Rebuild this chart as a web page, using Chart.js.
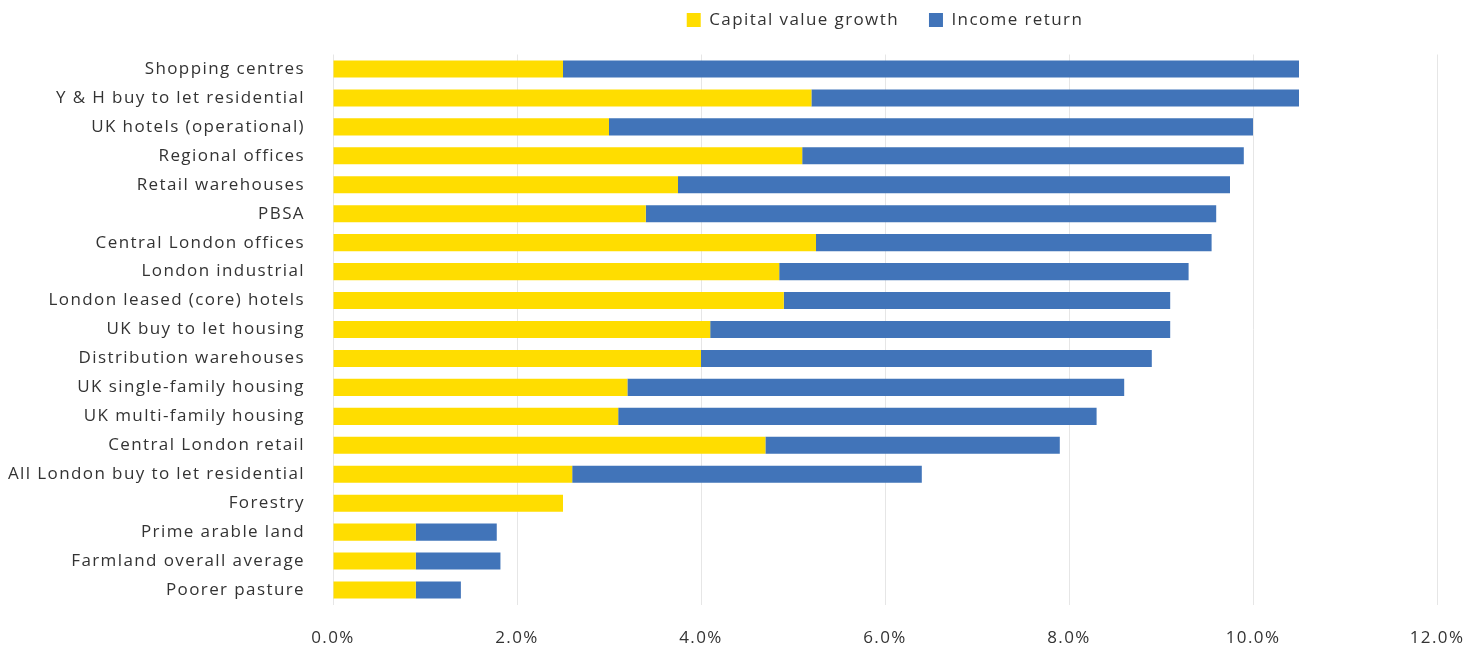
<!DOCTYPE html>
<html>
<head>
<meta charset="utf-8">
<script src="https://cdn.jsdelivr.net/npm/chart.js@4"></script>
<style>
  html, body { margin: 0; padding: 0; background: #fff; }
  #wrap { width: 1483px; height: 646px; position: relative; }
</style>
</head>
<body>
<div id="wrap"><canvas id="returns"></canvas></div>
<script>
const categories = [
    'Shopping centres', 'Y & H buy to let residential', 'UK hotels (operational)', 'Regional offices',
    'Retail warehouses', 'PBSA', 'Central London offices', 'London industrial',
    'London leased (core) hotels', 'UK buy to let housing', 'Distribution warehouses',
    'UK single-family housing', 'UK multi-family housing', 'Central London retail',
    'All London buy to let residential', 'Forestry', 'Prime arable land',
    'Farmland overall average', 'Poorer pasture'
];
const capitalGrowth = [2.5, 5.2, 3.0, 5.1, 3.75, 3.4, 5.25, 4.85, 4.9, 4.1, 4.0, 3.2, 3.1, 4.7, 2.6, 2.5, 0.9, 0.9, 0.9];
const incomeReturn = [8.0, 5.3, 7.0, 4.8, 6.0, 6.2, 4.3, 4.45, 4.2, 5.0, 4.9, 5.4, 5.2, 3.2, 3.8, 0, 0.88, 0.92, 0.49];
const xTicks = [0, 2, 4, 6, 8, 10, 12];

const textColor = '#333333';
const font = { family: "'Open Sans', 'Noto Sans', sans-serif", size: 17 };

// the original font is much wider, so space the letters out a bit
const wideText = {
    id: 'wideText',
    beforeUpdate(chart) { chart.ctx.letterSpacing = '1.4px'; },
    beforeDraw(chart) { chart.ctx.letterSpacing = '1.4px'; }
};

// legend sits higher, with a gap before the bars
const legendGap = {
    id: 'legendGap',
    beforeInit(chart) {
        const fit = chart.legend.fit;
        chart.legend.fit = function () {
            fit.call(this);
            this.height += 16;
        };
    }
};

new Chart(document.getElementById('returns'), {
    type: 'bar',
    data: {
        labels: categories,
        datasets: [
            { label: 'Capital value growth', data: capitalGrowth, backgroundColor: '#FFDD00' },
            { label: 'Income return', data: incomeReturn, backgroundColor: '#4174B9' }
        ]
    },
    options: {
        indexAxis: 'y',
        responsive: true,
        maintainAspectRatio: false,
        animation: false,
        layout: { padding: { top: -18.5, right: 46, bottom: 0, left: 0 } },
        datasets: { bar: { barPercentage: 0.59, categoryPercentage: 1 } },
        plugins: {
            legend: {
                position: 'top',
                fullSize: false,
                labels: { boxWidth: 14, boxHeight: 14, padding: 30, color: textColor, font: font }
            },
            tooltip: { enabled: false }
        },
        scales: {
            x: {
                stacked: true,
                min: 0,
                max: 12,
                afterBuildTicks: axis => { axis.ticks = xTicks.map(v => ({ value: v })); },
                afterFit: axis => {
                    axis.height = 41.5;
                    axis.paddingLeft = 0;
                    axis.paddingRight = 0;
                },
                ticks: {
                    color: textColor,
                    font: font,
                    padding: 23,
                    callback: v => v.toFixed(1) + '%'
                },
                grid: { color: '#e6e6e6', drawTicks: false },
                border: { display: false }
            },
            y: {
                stacked: true,
                afterFit: axis => { axis.width = 333; },
                ticks: { color: textColor, font: font, padding: 20 },
                grid: { display: false },
                border: { display: false }
            }
        }
    },
    plugins: [wideText, legendGap]
});
</script>
</body>
</html>
